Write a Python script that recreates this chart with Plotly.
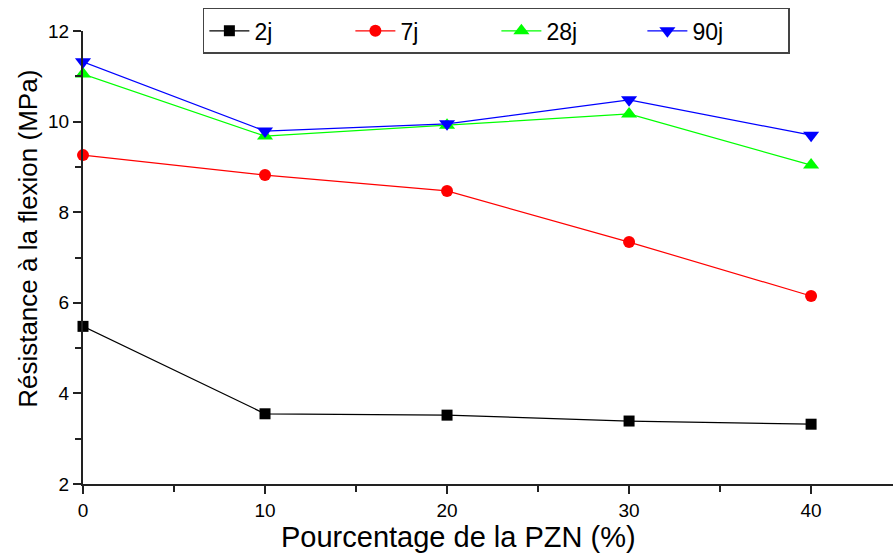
import plotly.graph_objects as go

pzn = [0, 10, 20, 30, 40]
r2j = [5.48, 3.55, 3.52, 3.39, 3.32]
r7j = [9.26, 8.82, 8.47, 7.34, 6.15]
r28j = [11.05, 9.68, 9.92, 10.17, 9.04]
r90j = [11.32, 9.79, 9.95, 10.48, 9.70]

x_title = "Pourcentage de la PZN (%)"
y_title = "Résistance à la flexion (MPa)"

series = [
    ("2j", r2j, "#000000", "square", 11),
    ("7j", r7j, "#FF0000", "circle", 12),
    ("28j", r28j, "#00FF00", "triangle-up", 14),
    ("90j", r90j, "#0000FF", "triangle-down", 14),
]

fig = go.Figure()
for name, ys, col, sym, sz in series:
    fig.add_trace(go.Scatter(
        x=pzn, y=ys, name=name, mode="lines+markers",
        line=dict(color=col, width=1.2),
        marker=dict(symbol=sym, size=sz, color=col),
        cliponaxis=False,
    ))

font = "Liberation Sans, Arial, sans-serif"
fig.update_layout(
    width=893, height=553,
    margin=dict(l=83, r=0, t=31, b=69),
    paper_bgcolor="white", plot_bgcolor="white",
    font=dict(family=font, color="black"),
    showlegend=True,
    legend=dict(
        orientation="h", x=0.148, xanchor="left", y=1.051, yanchor="top",
        bordercolor="#444444", borderwidth=1.5, bgcolor="white",
        font=dict(size=23, family=font), entrywidth=91, itemwidth=40,
    ),
    xaxis=dict(
        range=[0, 44.5], tickvals=[0, 10, 20, 30, 40],
        showgrid=False, zeroline=False,
        showline=True, linecolor="#222222", linewidth=2,
        ticks="outside", ticklen=8, tickwidth=1.5, tickcolor="#222222",
        minor=dict(dtick=5, tick0=0, ticks="outside", ticklen=6, tickwidth=1.5, tickcolor="#222222"),
        tickfont=dict(size=19),
    ),
    yaxis=dict(
        range=[2, 12], tickvals=[2, 4, 6, 8, 10, 12],
        showgrid=False, zeroline=False,
        showline=True, linecolor="#222222", linewidth=2,
        ticks="outside", ticklen=8, tickwidth=1.5, tickcolor="#222222",
        minor=dict(dtick=1, tick0=0, ticks="outside", ticklen=6, tickwidth=1.5, tickcolor="#222222"),
        tickfont=dict(size=19),
    ),
    annotations=[
        dict(text=x_title, xref="paper", yref="paper", x=0.464, y=-0.117,
             xanchor="center", yanchor="middle", showarrow=False,
             font=dict(size=29, family=font)),
        dict(text=y_title, xref="paper", yref="paper", x=-0.068, y=0.541,
             xanchor="center", yanchor="middle", showarrow=False, textangle=-90,
             font=dict(size=26, family=font)),
    ],
)

fig.write_html("out.html")
